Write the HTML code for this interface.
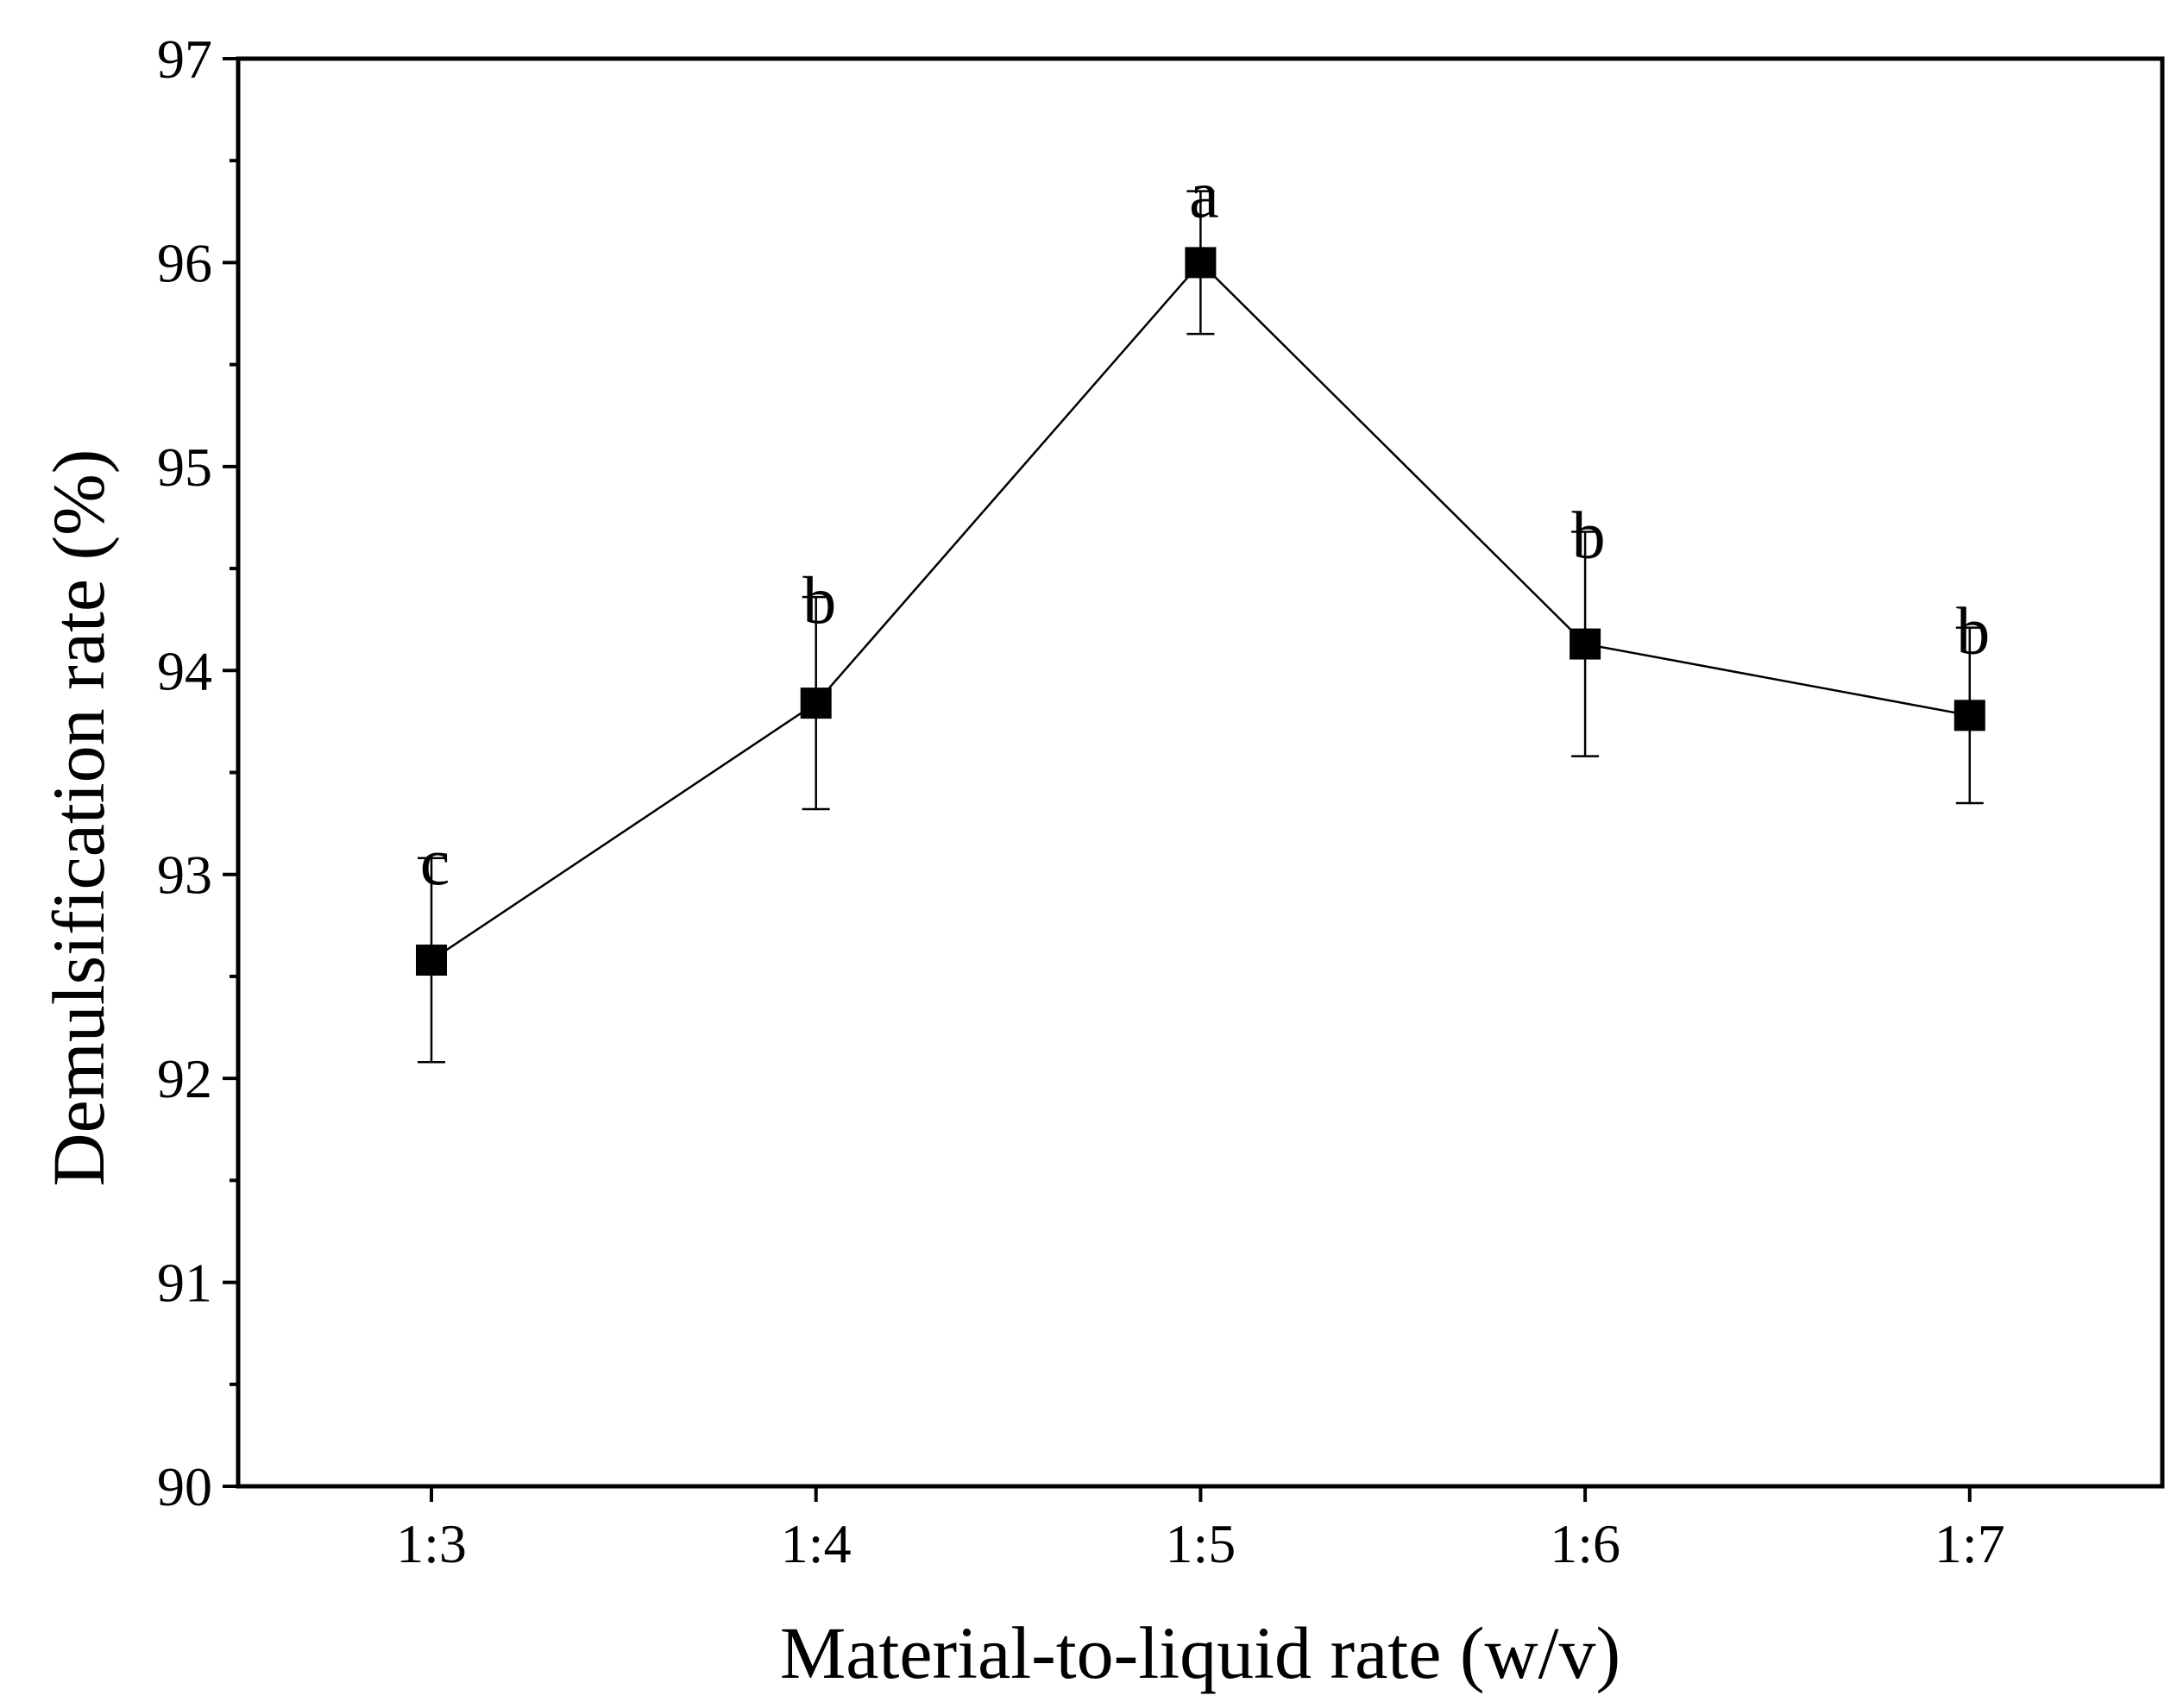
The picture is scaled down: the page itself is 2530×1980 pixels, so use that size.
<!DOCTYPE html>
<html><head><meta charset="utf-8"><style>
html,body{margin:0;padding:0;background:#fff;}
svg{display:block;font-family:"Liberation Serif",serif;}
</style></head><body>
<svg id="chart" width="2530" height="1980" viewBox="0 0 2530 1980"></svg>
<script>
const categories = ["1:3","1:4","1:5","1:6","1:7"];
const values = [92.58, 93.84, 96.0, 94.13, 93.78];
const errors = [0.5, 0.52, 0.35, 0.55, 0.43];
const letters = ["c","b","a","b","b"];
const yTicks = [90,91,92,93,94,95,96,97];

const L=276,R=2506,T=68,B=1723;
const yMin=90,yMax=97;
const x0=500,step=445.7;
const xS=i=>x0+i*step;
const yS=v=>B-(v-yMin)/(yMax-yMin)*(B-T);
const svg=document.getElementById('chart');
const NS='http://www.w3.org/2000/svg';
function mk(tag,attrs,parent){const e=document.createElementNS(NS,tag);for(const k in attrs)e.setAttribute(k,attrs[k]);(parent||svg).appendChild(e);return e;}

const frame=mk('rect',{x:L,y:T,width:R-L,height:B-T,fill:'none',stroke:'#000','stroke-width':5});



yTicks.forEach((v,i)=>{
  const y=yS(v);
  const t=mk('line',{x1:L-18,x2:L,y1:y,y2:y,stroke:'#000','stroke-width':4});
  
  
  const lab=mk('text',{x:L-30,y:y+22,'text-anchor':'end','font-size':64});
  lab.textContent=v;
  
  
  if(i<yTicks.length-1){
    const ym=yS(v+0.5);
    const m=mk('line',{x1:L-10,x2:L,y1:ym,y2:ym,stroke:'#000','stroke-width':4});
    
    
  }
});
categories.forEach((c,i)=>{
  const x=xS(i);
  const t=mk('line',{x1:x,x2:x,y1:B,y2:B+18,stroke:'#000','stroke-width':4});
  
  
  const lab=mk('text',{x:x,y:B+88,'text-anchor':'middle','font-size':64});
  lab.textContent=c;
  
  
});

const pl=mk('polyline',{points:values.map((v,i)=>xS(i)+','+yS(v)).join(' '),fill:'none',stroke:'#000','stroke-width':2.5});



values.forEach((v,i)=>{
  const x=xS(i),yt=yS(v+errors[i]),yb=yS(v-errors[i]);
  const g=mk('g',{});
  
  
  mk('line',{x1:x,x2:x,y1:yt,y2:yb,stroke:'#000','stroke-width':2.5},g);
  mk('line',{x1:x-16,x2:x+16,y1:yt,y2:yt,stroke:'#000','stroke-width':2.5},g);
  mk('line',{x1:x-16,x2:x+16,y1:yb,y2:yb,stroke:'#000','stroke-width':2.5},g);
  mk('rect',{x:x-18,y:yS(v)-18,width:36,height:36,fill:'#000'},g);
  const lt=mk('text',{x:x+4,y:yt+30,'text-anchor':'middle','font-size':78});
  lt.textContent=letters[i];
  
  
});

const xt=mk('text',{x:(L+R)/2,y:1945,'text-anchor':'middle','font-size':86});
xt.textContent='Material-to-liquid rate (w/v)';


const yt=mk('text',{x:0,y:0,'text-anchor':'middle','font-size':86,transform:'translate(120,948) rotate(-90)'});
yt.textContent='Demulsification rate (%)';


</script>
</body></html>
